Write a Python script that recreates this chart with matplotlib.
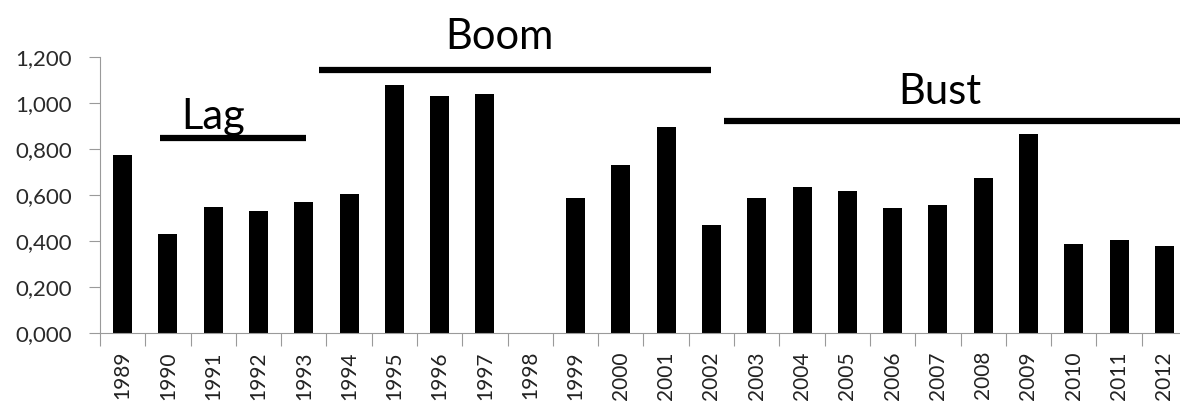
import numpy as np
import matplotlib
matplotlib.use("Agg")
import matplotlib.pyplot as plt
from matplotlib.ticker import FuncFormatter, FixedLocator

plt.rcParams['font.family'] = ['Lato', 'DejaVu Sans']

years = [str(y) for y in range(1989, 2013)]
values = [0.774, 0.432, 0.549, 0.532, 0.571, 0.606, 1.079, 1.032, 1.038, 0.0,
          0.588, 0.729, 0.897, 0.470, 0.588, 0.633, 0.616, 0.543, 0.555, 0.672,
          0.864, 0.386, 0.403, 0.380]

# phase annotations: label, x start, x end, line level, text x, text baseline
phases = ["Lag", "Boom", "Bust"]
phase_start = [0.82, 4.33, 13.27]
phase_end = [4.05, 13.0, 24.5]
phase_level = [0.849, 1.142, 0.922]
phase_text_x = [2.0, 8.33, 18.05]
phase_text_y = [0.885, 1.235, 0.995]

fig = plt.figure(figsize=(11.8, 4.03), dpi=100)
ax = fig.add_axes([100 / 1180, 1 - 333 / 403, 1087 / 1180, 276 / 403])

x = np.arange(len(years))
ax.bar(x, values, width=0.42, color='black')

ax.set_xlim(-0.5, len(years) - 0.5)
ax.set_ylim(0, 1.2)
ax.set_yticks(np.arange(0, 1.21, 0.2))
ax.yaxis.set_major_formatter(FuncFormatter(lambda v, p: f"{v:.3f}".replace('.', ',')))

# excel-style ticks between categories, labels at centres
ax.xaxis.set_major_locator(FixedLocator(np.arange(-0.5, len(years), 1)))
ax.xaxis.set_major_formatter(FuncFormatter(lambda v, p: ""))
ax.xaxis.set_minor_locator(FixedLocator(x))
ax.set_xticklabels(years, minor=True, rotation=90)

grey = '#9a9a9a'
for s in ['top', 'right']:
    ax.spines[s].set_visible(False)
ax.spines['left'].set_color(grey)
ax.spines['bottom'].set_color(grey)
ax.tick_params(axis='x', which='major', length=9, color=grey, direction='out')
ax.tick_params(axis='x', which='minor', length=0, labelsize=15, pad=13, colors='#222222')
ax.tick_params(axis='y', length=8, color=grey, labelsize=16, labelcolor='#2a2a2a', pad=12)

for lab, xs, xe, lv, tx, ty in zip(phases, phase_start, phase_end, phase_level, phase_text_x, phase_text_y):
    ax.plot([xs, xe], [lv, lv], color='black', lw=4.5, solid_capstyle='butt', clip_on=False)
    ax.text(tx, ty, lab, ha='center', va='baseline', fontsize=30, clip_on=False)

fig.savefig("out.png", dpi=100)
